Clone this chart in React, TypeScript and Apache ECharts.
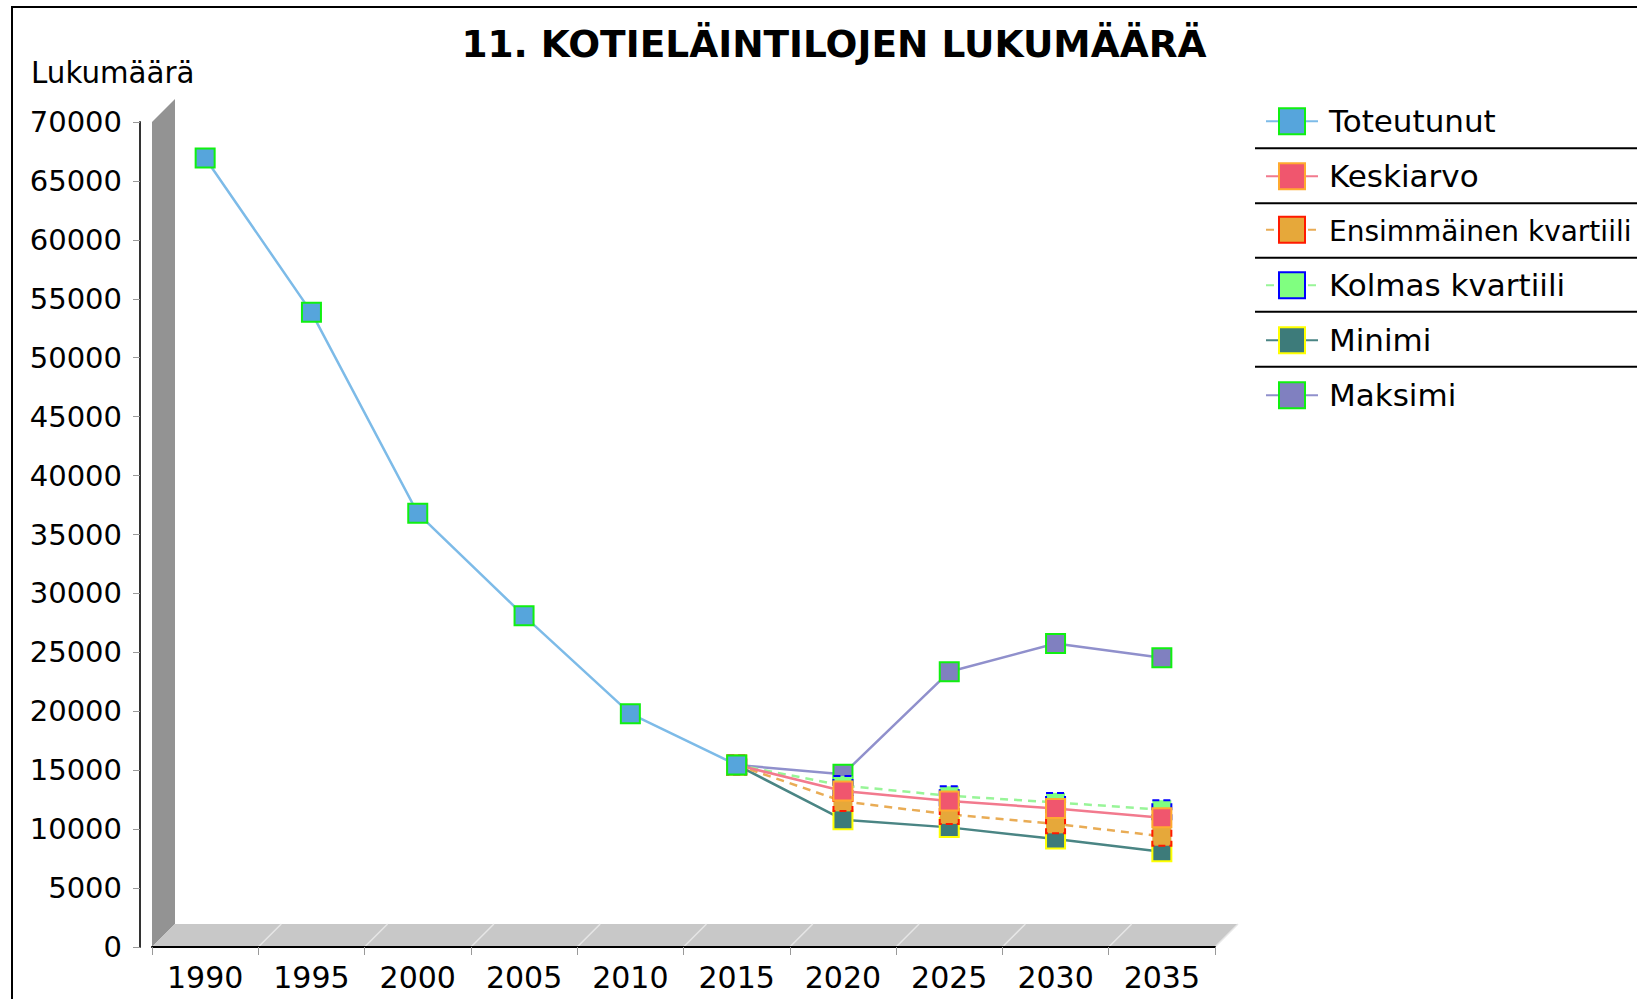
import React, { useEffect, useRef } from 'react';
import * as echarts from 'echarts';

const years = ['1990', '1995', '2000', '2005', '2010', '2015', '2020', '2025', '2030', '2035'];
const toteutunut = [66950, 53850, 36800, 28100, 19800, 15450, null, null, null, null];
const keskiarvo = [null, null, null, null, null, 15450, 13230, 12380, 11760, 10970];
const ensimmainenKvartiili = [null, null, null, null, null, 15450, 12350, 11250, 10450, 9400];
const kolmasKvartiili = [null, null, null, null, null, 15450, 13700, 12830, 12270, 11650];
const minimi = [null, null, null, null, null, 15450, 10800, 10150, 9160, 8080];
const maksimi = [null, null, null, null, null, 15450, 14650, 23350, 25750, 24550];

const Y_MIN = 0;
const Y_MAX = 70000;
const Y_INTERVAL = 5000;

const FONT = 'DejaVu Sans';

const GL = 152;
const GR = 1215;
const GT = 122;
const GB = 947;
const D = 23;

function mkSeries(
  name: string,
  data: (number | null)[],
  fill: string,
  line: string,
  border: string,
  z: number,
  dashed: boolean
) {
  return {
    name,
    type: 'line',
    data,
    z,
    symbol: 'rect',
    symbolSize: 19,
    showSymbol: true,
    connectNulls: false,
    emphasis: { disabled: true },
    lineStyle: { color: line, width: 2.5, type: dashed ? [8, 6] : 'solid' },
    itemStyle: {
      color: fill,
      borderColor: border,
      borderWidth: 2,
      borderType: dashed ? [7, 4] : 'solid',
    },
  };
}

export default function App() {
  const ref = useRef<HTMLDivElement>(null);
  useEffect(() => {
    if (!ref.current) return;
    document.body.style.margin = '0';
    const chart = echarts.init(ref.current, undefined, { renderer: 'svg' });
    const catW = (GR - GL) / years.length;
    const floorLines: any[] = [];
    for (let k = 1; k <= years.length; k++) {
      const x = GL + k * catW;
      floorLines.push({
        type: 'line',
        z: 0,
        shape: { x1: x, y1: GB, x2: x + D, y2: GB - D },
        style: { stroke: '#e6e6e6', lineWidth: 1.5 },
      });
    }
    const seps = [148.3, 203.3, 257.7, 311.7, 366.7].map((y) => ({
      type: 'line',
      z: 0,
      shape: { x1: 1255, y1: y, x2: 1637, y2: y },
      style: { stroke: '#000', lineWidth: 2 },
    }));
    chart.setOption({
      animation: false,
      backgroundColor: '#fff',
      textStyle: { fontFamily: FONT },
      grid: { left: GL, right: 1637 - GR, top: GT, bottom: 999 - GB, containLabel: false },
      tooltip: { show: false },
      legend: {
        orient: 'vertical',
        left: 1265,
        top: 105.7,
        padding: 0,
        itemWidth: 52,
        itemHeight: 32.5,
        itemGap: 24,
        selectedMode: false,
        formatter: (name: string) => (name === 'Ensimmäinen kvartiili' ? '{s|' + name + '}' : name),
        textStyle: {
          fontFamily: FONT,
          fontSize: 31,
          color: '#000',
          padding: [0, 0, 0, 6],
          rich: { s: { fontFamily: FONT, fontSize: 28, color: '#000', padding: [4, 0, 0, 0] } },
        },
        data: ['Toteutunut', 'Keskiarvo', 'Ensimmäinen kvartiili', 'Kolmas kvartiili', 'Minimi', 'Maksimi'],
      },
      xAxis: {
        type: 'category',
        data: years,
        boundaryGap: true,
        axisLine: { lineStyle: { color: '#000', width: 2 } },
        axisTick: { show: true, length: 8, lineStyle: { color: '#999', width: 1 } },
        axisLabel: { fontFamily: FONT, fontSize: 30, color: '#000', margin: 15 },
        splitLine: { show: false },
      },
      yAxis: {
        type: 'value',
        min: Y_MIN,
        max: Y_MAX,
        interval: Y_INTERVAL,
        offset: 12,
        axisLine: { show: true, lineStyle: { color: '#333', width: 2 } },
        axisTick: { show: true, length: 7, lineStyle: { color: '#999', width: 1 } },
        axisLabel: {
          fontFamily: FONT,
          fontSize: 29,
          color: '#000',
          margin: 18,
          formatter: (v: number) => String(v),
        },
        splitLine: { show: false },
      },
      graphic: [
        {
          type: 'polygon',
          z: 0,
          shape: { points: [[GL, GT], [GL + D, GT - D], [GL + D, GB - D], [GL, GB]] },
          style: { fill: '#939393' },
        },
        {
          type: 'polygon',
          z: 0,
          shape: { points: [[GL, GB], [GL + D, GB - D], [GR + D, GB - D], [GR, GB]] },
          style: { fill: '#c8c8c8' },
        },
        ...floorLines,
        ...seps,
        {
          type: 'line',
          z: 0,
          shape: { x1: 11, y1: 7, x2: 1637, y2: 7 },
          style: { stroke: '#000', lineWidth: 2 },
        },
        {
          type: 'line',
          z: 0,
          shape: { x1: 12, y1: 6, x2: 12, y2: 999 },
          style: { stroke: '#000', lineWidth: 2 },
        },
        {
          type: 'text',
          z: 10,
          x: 834,
          y: 43.5,
          style: {
            text: '11. KOTIELÄINTILOJEN LUKUMÄÄRÄ',
            fontFamily: FONT,
            fontSize: 37.5,
            fontWeight: 'bold',
            fill: '#000',
            textAlign: 'center',
            textVerticalAlign: 'middle',
          },
        },
        {
          type: 'text',
          z: 10,
          x: 31,
          y: 72.7,
          style: {
            text: 'Lukumäärä',
            fontFamily: FONT,
            fontSize: 29.3,
            fill: '#000',
            textAlign: 'left',
            textVerticalAlign: 'middle',
          },
        },
      ],
      series: [
        mkSeries('Toteutunut', toteutunut, '#56a5dc', '#7dbbe8', '#10f010', 9, false),
        mkSeries('Keskiarvo', keskiarvo, '#f0566e', '#f27a8e', '#ffaa30', 8, false),
        mkSeries('Ensimmäinen kvartiili', ensimmainenKvartiili, '#e6a83a', '#e9ac55', '#ff1a00', 7, true),
        mkSeries('Kolmas kvartiili', kolmasKvartiili, '#80ff80', '#98f598', '#0000ff', 6, true),
        mkSeries('Minimi', minimi, '#3d7b7a', '#4a8584', '#ffff00', 5, false),
        mkSeries('Maksimi', maksimi, '#8080c0', '#9090cc', '#10f010', 4, false),
      ],
    });
    return () => chart.dispose();
  }, []);
  return (
    <div style={{ position: 'fixed', left: 0, top: 0, width: 1637, height: 999, background: '#fff' }}>
      <div ref={ref} style={{ width: 1637, height: 999 }} />
    </div>
  );
}
